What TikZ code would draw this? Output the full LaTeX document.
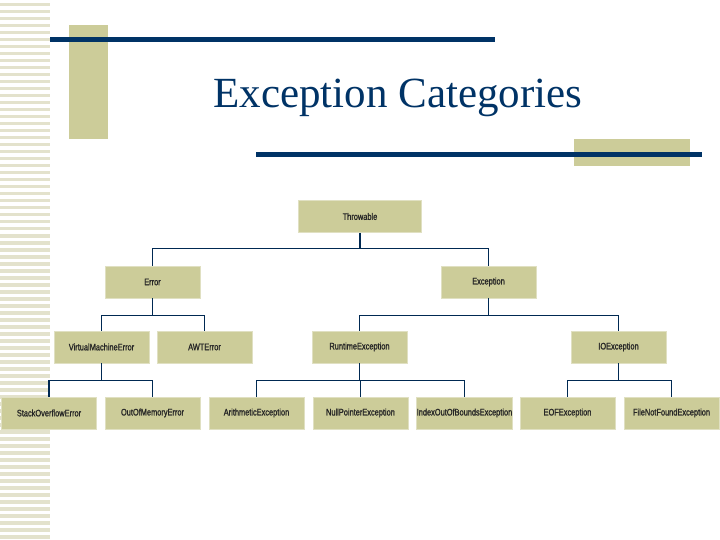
\documentclass[tikz,border=0pt]{standalone}
\usepackage{fontspec}
\setmainfont{Liberation Serif}
\newfontfamily\nodefont[FakeStretch=0.78,FakeBold=1.2]{Liberation Sans}
\definecolor{tan}{HTML}{CCCC99}
\definecolor{navy}{HTML}{003366}
\definecolor{stripe}{HTML}{E3E2CC}
\begin{document}
\begin{tikzpicture}[x=1pt,y=-1pt,
  cls/.style={fill=tan, draw=tan!60!white, line width=0.6pt, minimum width=95pt, minimum height=32pt, inner sep=0pt,
    font=\nodefont\fontsize{9.5}{10}\selectfont, text=black!85},
  link/.style={draw=navy!80!black, line width=1.1pt}]
\useasboundingbox (0,0) rectangle (720,540);
\fill[white] (0,0) rectangle (720,540);
\foreach \y in {3,10,17,24,31,38,45,52,59,66,73,80,87,94,101,108,115,122,129,136,143,150,157,164,171,178,185,192,199,206,213,220,227,234,241,248,255,262,269,276,283,290,297,304,311,318,325,332,339,346,353,360,367,374,381,388,395,402,409,416,423,430,437,444,451,458,465,472,479,486,493,500,507,514,521,528,535}
  \fill[stripe] (0,\y) rectangle (50,\y+3.5);
\fill[tan] (69,25) rectangle (108,139);
\fill[navy] (50,37) rectangle (495,42);
\fill[tan] (574,139) rectangle (690,166);
\fill[navy] (256,152) rectangle (702,157);
\node[text=navy, font=\fontsize{43}{48}\selectfont] (title) at (398,98) {Exception Categories};
\node[cls, minimum width=123pt] (thr) at (360,216.5) {Throwable};
\node[cls] (err) at (152.5,282) {Error};
\node[cls] (exc) at (488.5,282) {Exception};
\node[cls] (vme) at (101.5,347) {VirtualMachineError};
\node[cls] (awt) at (204.5,347) {AWTError};
\node[cls] (rte) at (359.5,347) {RuntimeException};
\node[cls] (ioe) at (618.5,347) {IOException};
\node[cls] (soe) at (49,413) {StackOverflowError};
\node[cls] (oom) at (152.5,413) {OutOfMemoryError};
\node[cls] (ari) at (256.5,413) {ArithmeticException};
\node[cls] (npe) at (360.5,413) {NullPointerException};
\node[cls] (iob) at (464.5,413) {IndexOutOfBoundsException};
\node[cls] (eof) at (567.5,413) {EOFException};
\node[cls] (fnf) at (671.5,413) {FileNotFoundException};
\draw[link] (thr.south) -- ++(0,16) -| (err.north);
\draw[link] (thr.south) -- ++(0,16) -| (exc.north);
\draw[link] (err.south) -- ++(0,17) -| (vme.north);
\draw[link] (err.south) -- ++(0,17) -| (awt.north);
\draw[link] (exc.south) -- ++(0,17) -| (rte.north);
\draw[link] (exc.south) -- ++(0,17) -| (ioe.north);
\draw[link] (vme.south) -- ++(0,17) -| (soe.north);
\draw[link] (vme.south) -- ++(0,17) -| (oom.north);
\draw[link] (rte.south) -- ++(0,17) -| (ari.north);
\draw[link] (rte.south) -- ++(0,17) -| (npe.north);
\draw[link] (rte.south) -- ++(0,17) -| (iob.north);
\draw[link] (ioe.south) -- ++(0,17) -| (eof.north);
\draw[link] (ioe.south) -- ++(0,17) -| (fnf.north);
\end{tikzpicture}
\end{document}
